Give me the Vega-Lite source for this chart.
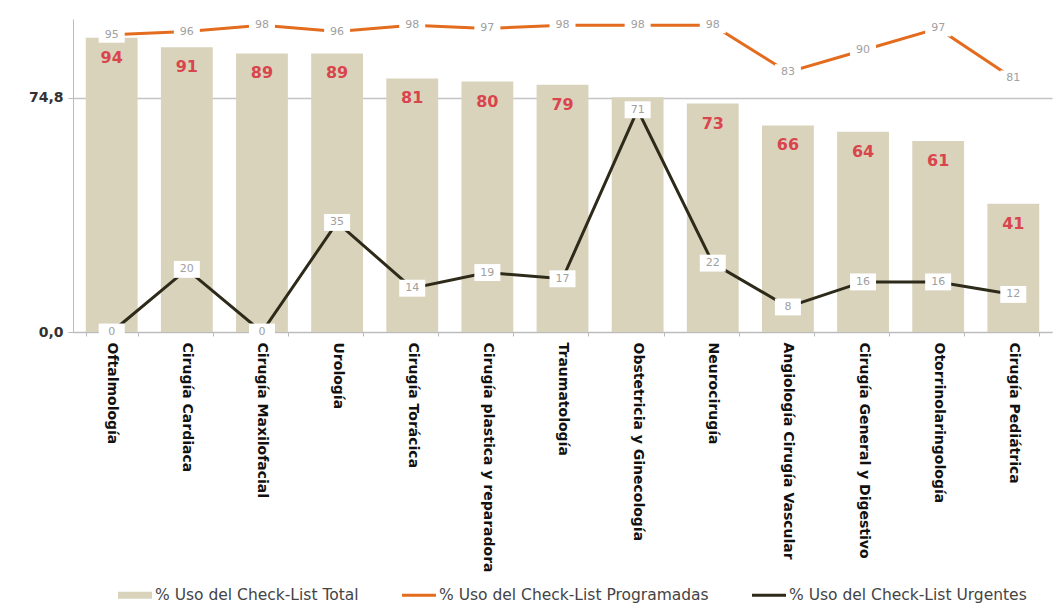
{
  "$schema": "https://vega.github.io/schema/vega-lite/v6.json",
  "autosize": {"type": "none"},
  "padding": {"left": 73, "top": 19, "right": 6, "bottom": 273},
  "width": 979,
  "height": 313,
  "background": "white",
  "config": {
    "view": {"stroke": null},
    "font": "DejaVu Sans"
  },
  "data": {
    "values": [
      {"servicio": "Oftalmología", "total": 94, "prog": 95, "urg": 0},
      {"servicio": "Cirugía Cardiaca", "total": 91, "prog": 96, "urg": 20},
      {"servicio": "Cirugía Maxilofacial", "total": 89, "prog": 98, "urg": 0},
      {"servicio": "Urología", "total": 89, "prog": 96, "urg": 35},
      {"servicio": "Cirugía Torácica", "total": 81, "prog": 98, "urg": 14},
      {"servicio": "Cirugía plastica y reparadora", "total": 80, "prog": 97, "urg": 19},
      {"servicio": "Traumatología", "total": 79, "prog": 98, "urg": 17},
      {"servicio": "Obstetricia y Ginecología", "total": 75, "prog": 98, "urg": 71},
      {"servicio": "Neurocirugía", "total": 73, "prog": 98, "urg": 22},
      {"servicio": "Angiología Cirugía Vascular", "total": 66, "prog": 83, "urg": 8},
      {"servicio": "Cirugía General y Digestivo", "total": 64, "prog": 90, "urg": 16},
      {"servicio": "Otorrinolaringología", "total": 61, "prog": 97, "urg": 16},
      {"servicio": "Cirugía Pediátrica", "total": 41, "prog": 81, "urg": 12}
    ]
  },
  "encoding": {
    "x": {
      "field": "servicio",
      "type": "nominal",
      "sort": null,
      "title": null,
      "scale": {"paddingInner": 0.31, "paddingOuter": 0.17},
      "axis": {
        "labelAngle": 90,
        "labelAlign": "left",
        "labelBaseline": "middle",
        "labelFont": "DejaVu Sans",
        "labelFontWeight": "bold",
        "labelFontSize": 14,
        "labelColor": "#111111",
        "labelPadding": 6,
        "labelLimit": 400,
        "tickBand": "extent",
        "tickSize": 4,
        "tickColor": "#bbbbbb",
        "domainColor": "#bbbbbb",
        "grid": false
      }
    }
  },
  "layer": [
    {
      "mark": {"type": "bar"},
      "encoding": {
        "y": {
          "field": "total",
          "type": "quantitative",
          "title": null,
          "scale": {"domain": [0, 100], "nice": false, "zero": true},
          "axis": {
            "values": [0, 74.8],
            "labelExpr": "replace(format(datum.value, '.1f'), '.', ',')",
            "labelFont": "DejaVu Sans",
            "labelFontWeight": "bold",
            "labelFontSize": 14,
            "labelColor": "#333333",
            "labelPadding": 5,
            "tickSize": 5,
            "tickColor": "#bbbbbb",
            "domainColor": "#bbbbbb",
            "grid": true,
            "gridColor": "#c4c4c4",
            "gridWidth": 1.5
          }
        },
        "color": {
          "datum": "% Uso del Check-List  Total",
          "scale": {
            "domain": ["% Uso del Check-List  Total", "% Uso del Check-List  Programadas", "% Uso del Check-List  Urgentes"],
            "range": ["#d9d3bc", "#e46c1e", "#2d2a1a"]
          },
          "legend": {
            "title": null,
            "orient": "none",
            "legendX": 45,
            "legendY": 559,
            "direction": "horizontal",
            "columns": 3,
            "columnPadding": 38,
            "padding": 0,
            "symbolSize": 1156,
            "symbolStrokeWidth": 0,
            "labelOffset": 3,
            "labelFont": "DejaVu Sans",
            "labelFontSize": 15.5,
            "labelColor": "#444444",
            "labelLimit": 400,
            "encode": {
              "symbols": {
                "update": {
                  "shape": {"signal": "datum.value === '% Uso del Check-List  Total' ? 'M-1,-0.2H1V0.2H-1Z' : 'M-1,-0.09H1V0.09H-1Z'"},
                  "fill": {"scale": "color", "field": "value"},
                  "stroke": {"value": "transparent"},
                  "opacity": {"value": 1}
                }
              }
            }
          }
        }
      }
    },
    {
      "mark": {"type": "line", "strokeWidth": 3},
      "encoding": {
        "y": {"field": "prog", "type": "quantitative"},
        "color": {"datum": "% Uso del Check-List  Programadas"}
      }
    },
    {
      "mark": {"type": "line", "strokeWidth": 3},
      "encoding": {
        "y": {"field": "urg", "type": "quantitative"},
        "color": {"datum": "% Uso del Check-List  Urgentes"}
      }
    },
    {
      "transform": [{"filter": "datum.servicio !== 'Obstetricia y Ginecología'"}],
      "mark": {"type": "text", "baseline": "middle", "dy": 20, "font": "DejaVu Sans", "fontWeight": "bold", "fontSize": 16, "color": "#d9454d"},
      "encoding": {
        "y": {"field": "total", "type": "quantitative"},
        "text": {"field": "total", "type": "quantitative"}
      }
    },
    {
      "mark": {"type": "point", "shape": "M-1,-0.62H1V0.62H-1Z", "filled": true, "fill": "white", "stroke": null, "opacity": 1, "size": 676},
      "encoding": {
        "y": {"field": "prog", "type": "quantitative"}
      }
    },
    {
      "mark": {"type": "text", "baseline": "middle", "font": "DejaVu Sans", "fontSize": 11, "color": "#a0a0a0"},
      "encoding": {
        "y": {"field": "prog", "type": "quantitative"},
        "text": {"field": "prog", "type": "quantitative"}
      }
    },
    {
      "mark": {"type": "point", "shape": "M-1,-0.65H1V0.65H-1Z", "filled": true, "fill": "white", "stroke": null, "opacity": 1, "size": 676},
      "encoding": {
        "y": {"field": "urg", "type": "quantitative"}
      }
    },
    {
      "mark": {"type": "text", "baseline": "middle", "font": "DejaVu Sans", "fontSize": 11, "color": "#a0a0a0"},
      "encoding": {
        "y": {"field": "urg", "type": "quantitative"},
        "text": {"field": "urg", "type": "quantitative"}
      }
    }
  ]
}
